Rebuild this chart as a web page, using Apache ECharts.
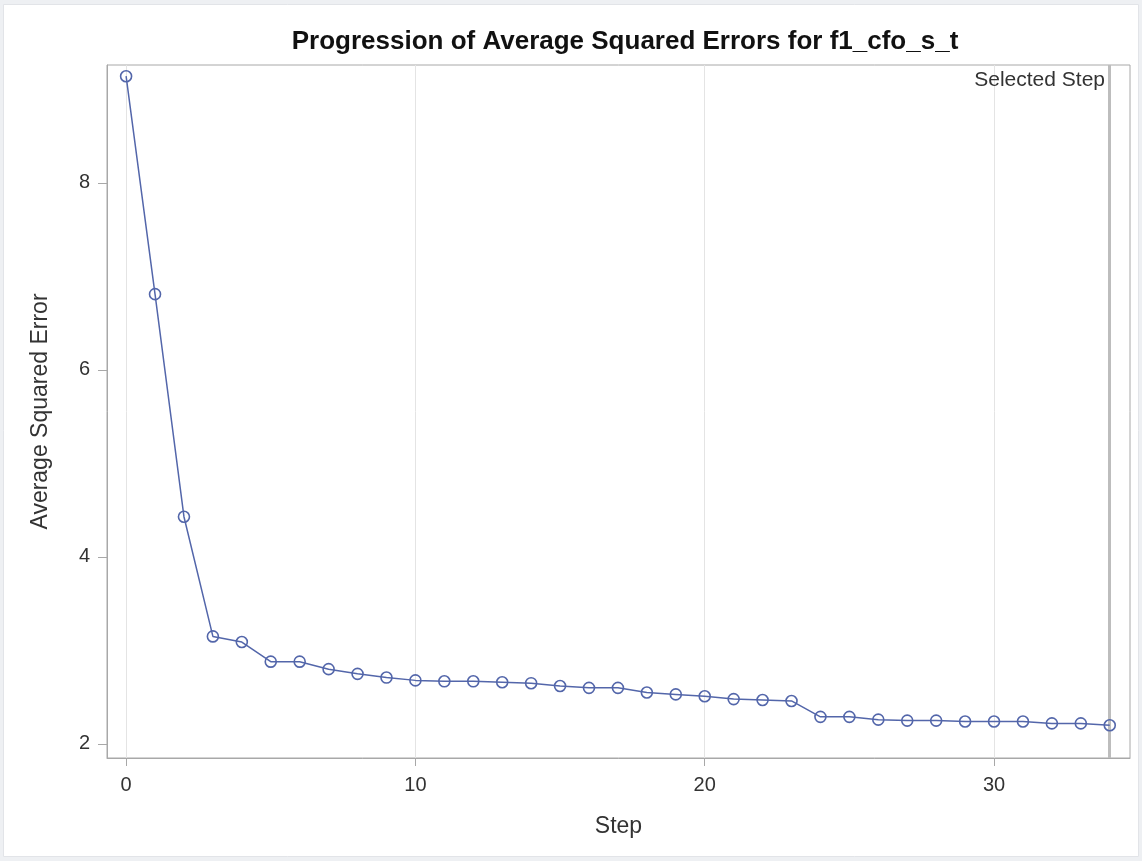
<!DOCTYPE html>
<html>
<head>
<meta charset="utf-8">
<script src="https://cdn.jsdelivr.net/npm/echarts@6/dist/echarts.min.js"></script>
<style>
  html, body { margin: 0; padding: 0; background: #eef0f3; }
  #chart { width: 1142px; height: 861px; }
</style>
</head>
<body>
<div id="chart"></div>
<script>
const steps = [0, 1, 2, 3, 4, 5, 6, 7, 8, 9, 10, 11, 12, 13, 14, 15, 16, 17,
  18, 19, 20, 21, 22, 23, 24, 25, 26, 27, 28, 29, 30, 31, 32, 33, 34];
const avgSquaredError = [9.14, 6.81, 4.43, 3.15, 3.09, 2.88, 2.88, 2.80, 2.75, 2.71,
  2.68, 2.67, 2.67, 2.66, 2.65, 2.62, 2.60, 2.60, 2.55, 2.53,
  2.51, 2.48, 2.47, 2.46, 2.29, 2.29, 2.26, 2.25, 2.25, 2.24,
  2.24, 2.24, 2.22, 2.22, 2.20];
const xTicks = [0, 10, 20, 30];
const yTicks = [2, 4, 6, 8];
const xGridLines = [0, 10, 20, 30];
const selectedStep = 34;

const font = '"Liberation Sans", Arial, sans-serif';
const axisGray = '#a8a8a8';
const chart = echarts.init(document.getElementById('chart'));

chart.setOption({
  animation: false,
  backgroundColor: '#eef0f3',
  graphic: [
    {
      type: 'rect',
      z: -10,
      shape: { x: 3.5, y: 4.5, width: 1135, height: 852 },
      style: { fill: '#ffffff', stroke: '#e2e4e8', lineWidth: 1 }
    },
    {
      type: 'text',
      right: 37,
      top: 70,
      z: 10,
      style: { text: 'Selected Step', font: '21px ' + font, fill: '#333333' }
    }
  ],
  title: {
    text: 'Progression of Average Squared Errors for f1_cfo_s_t',
    left: 620,
    top: 24,
    textAlign: 'center',
    textStyle: { fontFamily: font, fontSize: 26, fontWeight: 'bold', color: '#111111' }
  },
  grid: {
    left: 107, right: 12, top: 65, bottom: 103,
    show: true, borderColor: axisGray, borderWidth: 1, backgroundColor: '#ffffff'
  },
  xAxis: {
    type: 'value',
    min: -0.66,
    max: 34.7,
    name: 'Step',
    nameLocation: 'middle',
    nameGap: 57,
    nameTextStyle: { fontFamily: font, fontSize: 23, color: '#333333' },
    axisLine: { show: true, onZero: false, lineStyle: { color: axisGray } },
    axisTick: { show: true, length: 8, customValues: xTicks, lineStyle: { color: axisGray } },
    axisLabel: { customValues: xTicks, margin: 17, fontFamily: font, fontSize: 20, color: '#333333' },
    splitLine: { show: false }
  },
  yAxis: {
    type: 'value',
    min: 1.85,
    max: 9.26,
    name: 'Average Squared Error',
    nameLocation: 'middle',
    nameGap: 55,
    nameTextStyle: { fontFamily: font, fontSize: 23, color: '#333333' },
    axisLine: { show: true, onZero: false, lineStyle: { color: axisGray } },
    axisTick: { show: true, length: 9, customValues: yTicks, lineStyle: { color: axisGray } },
    axisLabel: { customValues: yTicks, margin: 17, fontFamily: font, fontSize: 20, color: '#333333' },
    splitLine: { show: false }
  },
  series: [
    {
      type: 'line',
      data: steps.map((s, i) => [s, avgSquaredError[i]]),
      symbol: 'circle',
      symbolSize: 11,
      lineStyle: { color: '#5366aa', width: 1.5 },
      itemStyle: { color: 'rgba(0,0,0,0)', borderColor: '#5366aa', borderWidth: 1.6 },
      z: 5,
      markLine: {
        silent: true,
        symbol: 'none',
        label: { show: false },
        z: 1,
        data: xGridLines.map((v) => ({ xAxis: v, lineStyle: { color: '#e4e4e4', width: 1, type: 'solid' } }))
          .concat([{ xAxis: selectedStep, lineStyle: { color: '#bdbdbd', width: 3, type: 'solid' } }])
      }
    }
  ]
});
</script>
</body>
</html>
